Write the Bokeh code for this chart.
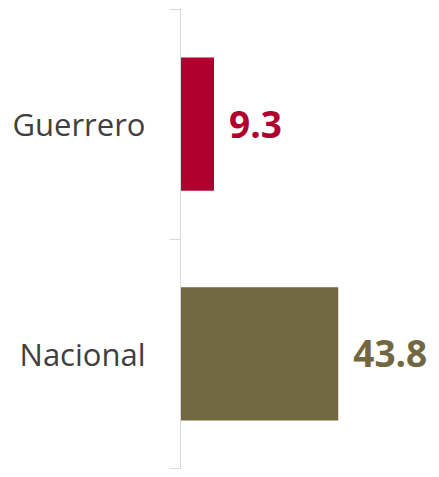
from bokeh.plotting import figure
from bokeh.models import Range1d, FixedTicker, ColumnDataSource
from bokeh.core.properties import value
from bokeh.embed import file_html
from bokeh.resources import INLINE

categories = ["Guerrero", "Nacional"]
values = [9.3, 43.8]
colors = ["#B0002E", "#716841"]
labels = ["9.3", "43.8"]

pos = [i + 0.5 for i in range(len(categories))]
src = ColumnDataSource(dict(y=pos, v=values, c=colors, t=labels))

p = figure(width=431, height=469, output_backend="svg", toolbar_location=None,
           x_range=Range1d(0, 69.7), y_range=Range1d(len(categories) + 0.003, -0.003),
           x_axis_location=None, min_border_left=180, min_border_right=0,
           min_border_top=8, min_border_bottom=0)
p.outline_line_color = None
p.grid.visible = False

p.hbar(y="y", left=0, right="v", height=0.58, fill_color="c", line_color=None, source=src)
p.text(x="v", y="y", text="t", text_color="c", x_offset=15, text_align="left",
       text_baseline="middle", text_font=value("Open Sans"), text_font_style="bold",
       text_font_size="37px", source=src)

ax = p.yaxis[0]
ax.ticker = FixedTicker(ticks=pos, minor_ticks=list(range(len(categories) + 1)))
ax.major_label_overrides = {pv: c for pv, c in zip(pos, categories)}
ax.axis_line_color = "#D9D9D9"
ax.major_tick_line_color = None
ax.major_tick_in = 0
ax.major_tick_out = 0
ax.minor_tick_line_color = "#D9D9D9"
ax.minor_tick_in = 0
ax.minor_tick_out = 11
ax.major_label_standoff = 24
ax.major_label_text_font = "Open Sans"
ax.major_label_text_font_size = "31px"
ax.major_label_text_color = "#404040"

open("out.html", "w").write(file_html(p, INLINE))
